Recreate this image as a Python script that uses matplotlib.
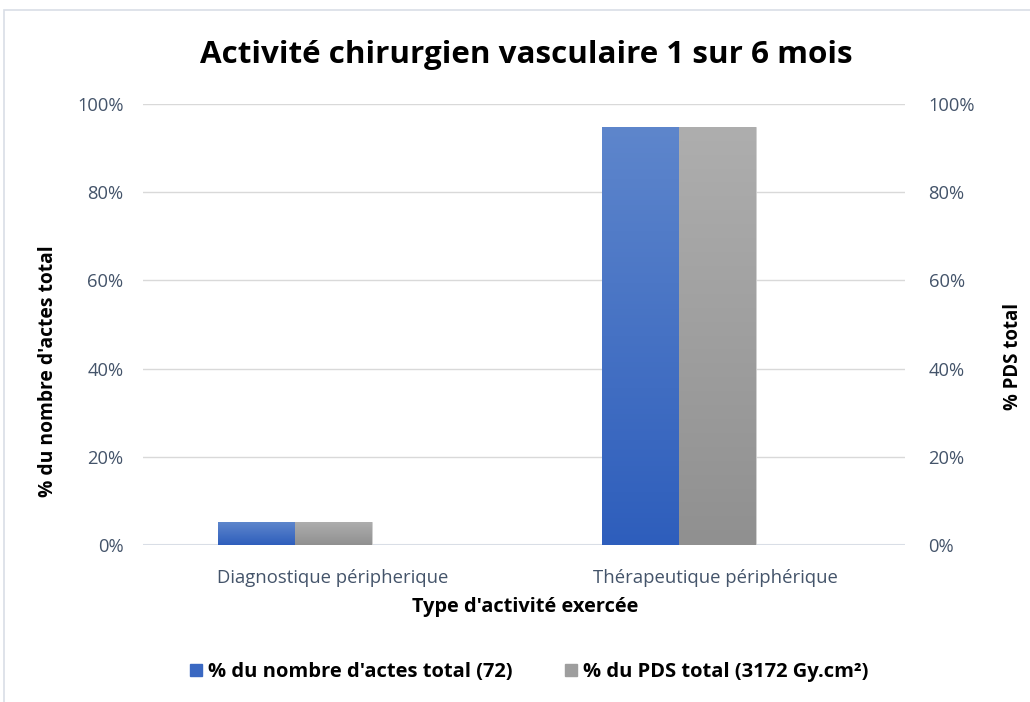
import matplotlib
matplotlib.use("Agg")
import matplotlib.pyplot as plt
import numpy as np
from matplotlib.patches import Rectangle
from matplotlib.colors import LinearSegmentedColormap

categories = ["Diagnostique péripherique", "Thérapeutique périphérique"]
actes_pct = [5.2, 94.8]
pds_pct = [5.2, 94.8]
series_names = ["% du nombre d'actes total (72)", "% du PDS total (3172 Gy.cm²)"]
yticks = [0, 20, 40, 60, 80, 100]

FONT = ["Open Sans", "DejaVu Sans"]
plt.rcParams['font.family'] = FONT
TICKC = "#44546A"

fig = plt.figure(figsize=(10.30, 7.02), dpi=100)
fig.patches.append(Rectangle((4/1030, -0.01), 1.1, 1 - 10/702 + 0.01, transform=fig.transFigure,
                             fill=False, edgecolor="#D9DEE6", linewidth=1.2))
ax = fig.add_axes([143/1030, 1 - 545/702, (905-143)/1030, (545-104)/702])
ax2 = ax.twinx()

x = np.arange(len(categories))
w = 77/384
b1 = ax.bar(x - w/2, actes_pct, width=w, color="#4472C4", edgecolor="#C9D3EA", linewidth=0.6, zorder=3)
b2 = ax.bar(x + w/2, pds_pct, width=w, color="#A5A5A5", edgecolor="#D0D0D0", linewidth=0.6, zorder=3)

cm_blue = LinearSegmentedColormap.from_list("b", ["#2E5EBC", "#5E86CC"])
cm_gray = LinearSegmentedColormap.from_list("g", ["#909090", "#AEAEAE"])
grad = np.linspace(0, 1, 256).reshape(-1, 1)
for bars, cm in ((b1, cm_blue), (b2, cm_gray)):
    for p in bars:
        x0, y0 = p.get_x(), p.get_y()
        im = ax.imshow(grad, cmap=cm, origin="lower", aspect="auto",
                       extent=[x0, x0 + p.get_width(), y0, y0 + p.get_height()], zorder=3.5)
        im.set_clip_path(p)

ax.set_xlim(-152/384, 1 + 226/384)
ax.set_ylim(0, 100)
ax2.set_ylim(0, 100)
ax.set_xticks([38/384, 1 + 36/384])
ax.set_xticklabels(categories, fontsize=13.3, color=TICKC)
ax.tick_params(axis="x", length=0, pad=17)
for a in (ax, ax2):
    a.set_yticks(yticks)
    a.set_yticklabels([f"{v}%" for v in yticks], fontsize=13.2, color=TICKC)
    a.tick_params(axis="y", length=0)
    for s in a.spines.values():
        s.set_visible(False)
ax.tick_params(axis="y", pad=14)
ax2.tick_params(axis="y", pad=17)
ax.grid(axis="y", color="#D9D9D9", linewidth=1, zorder=0)
ax.axhline(0, color="#D9DEE6", linewidth=1.5, zorder=2)
ax.set_axisbelow(True)

fig.text(526/1030, 1 - 55/702, "Activité chirurgien vasculaire 1 sur 6 mois", ha="center", va="center",
         fontsize=22.6, fontweight="bold", color="black")
fig.text(48/1030, 1 - 371/702, "% du nombre d'actes total", rotation=90, ha="center", va="center",
         fontsize=13.9, fontweight="bold")
fig.text(1013/1030, 1 - 357/702, "% PDS total", rotation=90, ha="center", va="center",
         fontsize=13.4, fontweight="bold")
fig.text(525/1030, 1 - 607/702, "Type d'activité exercée", ha="center", va="center",
         fontsize=14.4, fontweight="bold")

h1 = Rectangle((0, 0), 1, 1, color="#3A68C2")
h2 = Rectangle((0, 0), 1, 1, color="#9E9E9E")
fig.legend([h1, h2], series_names, loc="center", bbox_to_anchor=(529/1030, 1 - 672/702), ncol=2,
           frameon=False, prop={"weight": "bold", "size": 14.5, "family": FONT},
           handlelength=0.6, handleheight=0.6, handletextpad=0.3, columnspacing=2.6)

fig.savefig("out.png", dpi=100, facecolor="white")
